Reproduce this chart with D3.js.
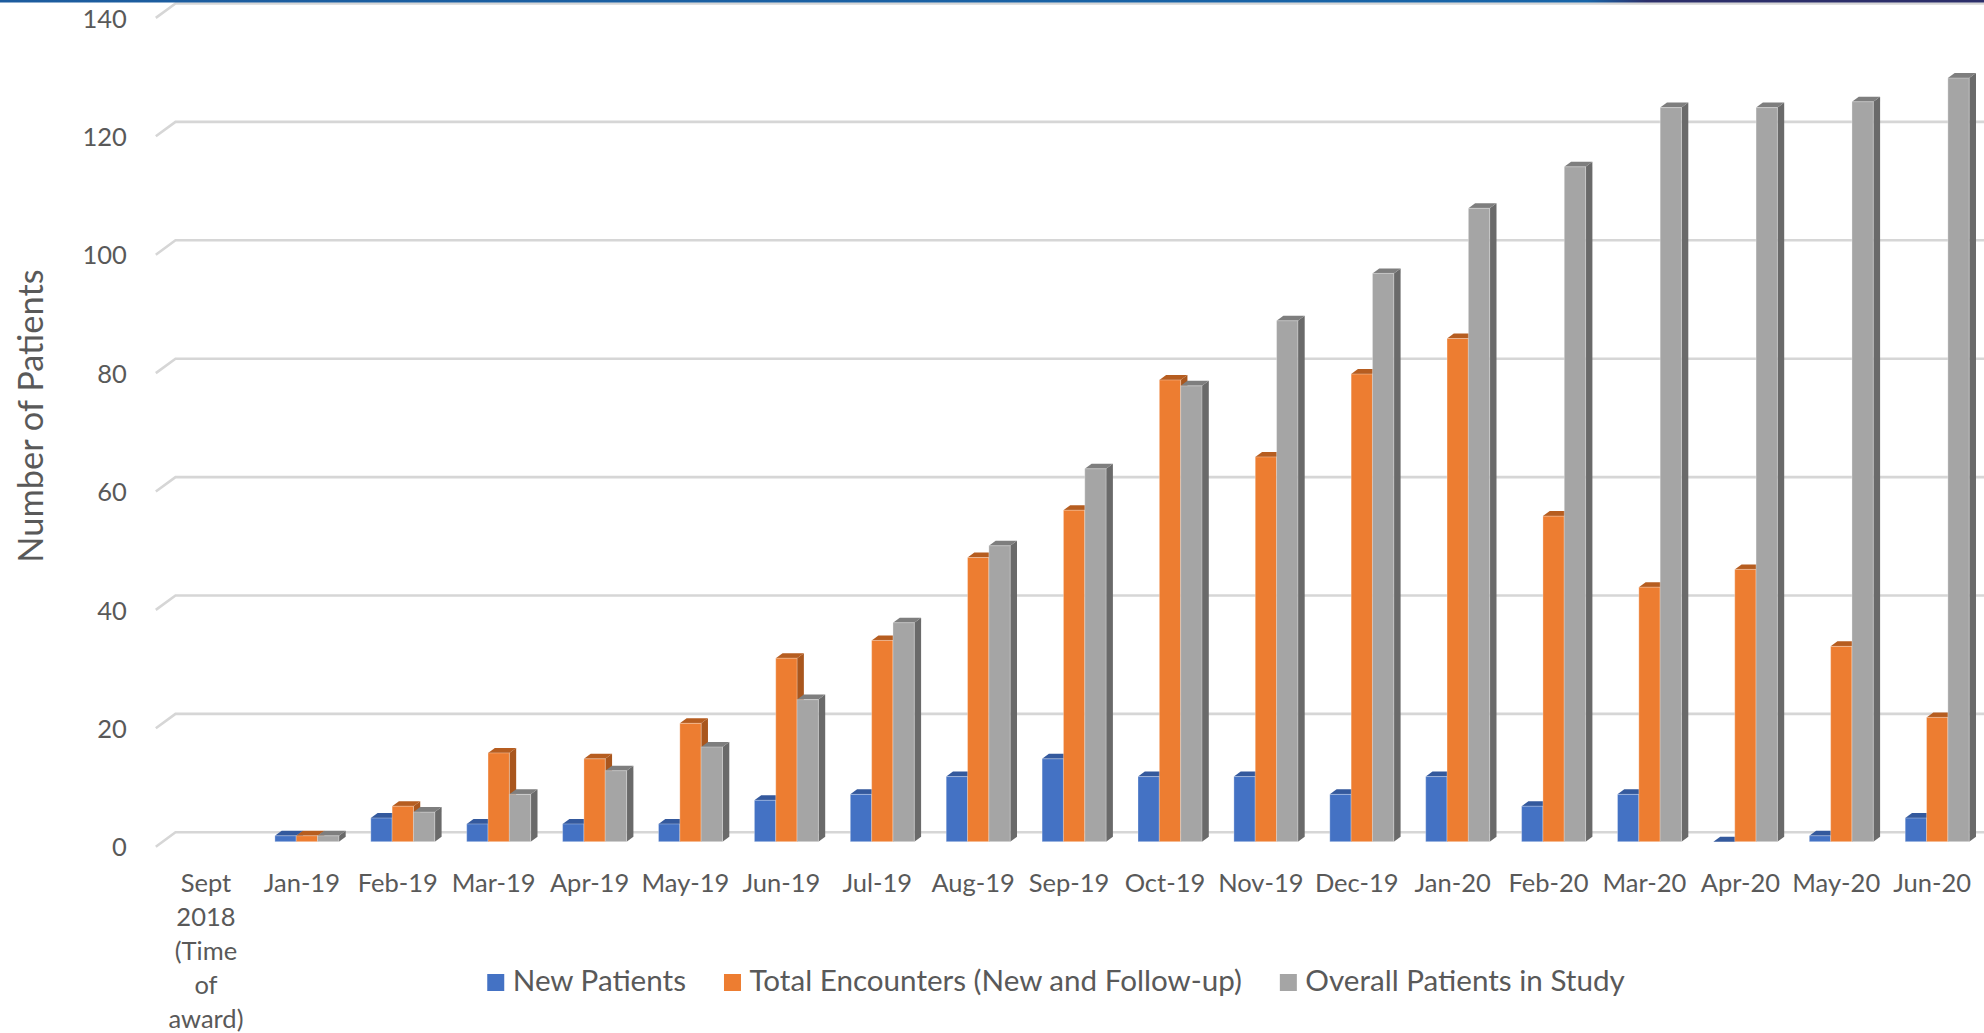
<!DOCTYPE html>
<html>
<head>
<meta charset="utf-8">
<script src="https://cdn.jsdelivr.net/npm/d3@7"></script>
<style>
  html, body { margin: 0; padding: 0; background: #ffffff; }
  svg { display: block; }
  text { font-family: Lato, "Open Sans", sans-serif; fill: #595959; }
</style>
</head>
<body>
<svg id="chart" width="1984" height="1033"></svg>
<script>
// Monthly enrolment figures for the study
const categories = [
  "Sept 2018 (Time of award)", "Jan-19", "Feb-19", "Mar-19", "Apr-19", "May-19",
  "Jun-19", "Jul-19", "Aug-19", "Sep-19", "Oct-19", "Nov-19", "Dec-19",
  "Jan-20", "Feb-20", "Mar-20", "Apr-20", "May-20", "Jun-20"
];
const seriesNames = [
  "New Patients",
  "Total Encounters (New and Follow-up)",
  "Overall Patients in Study"
];
const newPatients     = [null, 1, 4, 3, 3, 3, 7, 8, 11, 14, 11, 11, 8, 11, 6, 8, 0, 1, 4];
const totalEncounters = [null, 1, 6, 15, 14, 20, 31, 34, 48, 56, 78, 65, 79, 85, 55, 43, 46, 33, 21];
const overallPatients = [null, 1, 5, 8, 12, 16, 24, 37, 50, 63, 77, 88, 96, 107, 114, 124, 124, 125, 129];
const yTicks = [0, 20, 40, 60, 80, 100, 120, 140];
const yTitle = "Number of Patients";

// Face colours for each series: front, top, side
const palette = [
  { front: "#4472C4", top: "#34599D", side: "#2E4F8C" },
  { front: "#ED7D31", top: "#B65D20", side: "#A9561D" },
  { front: "#A5A5A5", top: "#7E7E7E", side: "#6A6A6A" }
];

const seriesValues = [newPatients, totalEncounters, overallPatients];

const svg = d3.select("#chart");
const W = 1984;
const tickFont = 25.5, legendFont = 29.6, titleFont = 34.4;

// Thin header rule across the top
const defs = svg.append("defs");
const grad = defs.append("linearGradient").attr("id", "rule").attr("x1", "0").attr("x2", "1");
grad.append("stop").attr("offset", "0").attr("stop-color", "#1d5c9e");
grad.append("stop").attr("offset", "0.80").attr("stop-color", "#1865a8");
grad.append("stop").attr("offset", "0.83").attr("stop-color", "#2c2f6a");
grad.append("stop").attr("offset", "1").attr("stop-color", "#2c2f6a");

// Scales: bar fronts sit on a plane slightly in front of the back wall
const y = d3.scaleLinear().domain([0, 140]).range([841.7, 12.9]);
const wallLift = 9.4;          // back wall is drawn this much higher than the bar plane
const sideDx = -19.7, sideDy = 14.4; // side-wall edge, towards the viewer
const depthDx = 6.8, depthDy = 5;    // column depth

const x = d3.scaleBand().domain(categories).range([163, 163 + 19 * 95.9]).padding(0);
const xs = d3.scaleBand().domain(seriesNames).range([16, 16 + 64]).padding(0);

const wallLeft = 175.5;

// Gridlines on the back wall with the short side-wall segment
const grid = svg.append("g");
yTicks.forEach(t => {
  const yb = y(t) - wallLift;
  grid.append("path")
    .attr("d", `M${wallLeft + sideDx},${yb + sideDy} L${wallLeft},${yb} L${W + 5},${yb}`)
    .attr("fill", "none")
    .attr("stroke", "#d6d6d6")
    .attr("stroke-width", 2.6);
});

svg.append("rect").attr("x", 0).attr("y", 0).attr("width", W).attr("height", 2.5).attr("fill", "url(#rule)");

// Value axis labels, aligned with the front edge of the side wall
const yAxis = d3.axisLeft(y).tickValues(yTicks).tickSize(0).tickPadding(0);
const yAxisG = svg.append("g")
  .attr("transform", `translate(${wallLeft + sideDx - 29},${sideDy - wallLift})`)
  .call(yAxis);
yAxisG.select(".domain").remove();
yAxisG.selectAll("text")
  .attr("font-family", "Lato, 'Open Sans', sans-serif")
  .attr("font-size", tickFont)
  .attr("fill", "#595959")
  .attr("dy", "0.36em");

// Axis title
svg.append("text")
  .attr("transform", "translate(43,416) rotate(-90)")
  .attr("text-anchor", "middle")
  .attr("font-size", titleFont)
  .text(yTitle);

// Columns
const bars = svg.append("g");
categories.forEach((cat, ci) => {
  seriesNames.forEach((s, si) => {
    const v = seriesValues[si][ci];
    if (v === null || v === undefined) return;
    const x0 = x(cat) + xs(s);
    const w = xs.bandwidth();
    const yt = y(v), yb = y(0);
    const c = palette[si];
    const g = bars.append("g");
    // right side face
    g.append("path")
      .attr("d", `M${x0 + w},${yt} L${x0 + w + depthDx},${yt - depthDy} L${x0 + w + depthDx},${yb - depthDy} L${x0 + w},${yb} Z`)
      .attr("fill", c.side);
    // top face
    g.append("path")
      .attr("d", `M${x0},${yt} L${x0 + w},${yt} L${x0 + w + depthDx},${yt - depthDy} L${x0 + depthDx},${yt - depthDy} Z`)
      .attr("fill", c.top);
    // front face
    if (v > 0) {
      g.append("rect")
        .attr("x", x0).attr("y", yt)
        .attr("width", w).attr("height", yb - yt)
        .attr("fill", c.front)
        .attr("stroke", "rgba(255,255,255,0.3)")
        .attr("stroke-width", 1);
    }
  });
});

// Category labels (long labels wrap word by word)
const xLab = svg.append("g");
categories.forEach(cat => {
  const cx = x(cat) + x.bandwidth() / 2 - 5;
  const words = cat.split(" ");
  const t = xLab.append("text")
    .attr("text-anchor", "middle")
    .attr("font-size", tickFont);
  words.forEach((wd, i) => {
    t.append("tspan").attr("x", cx).attr("y", 892 + i * 34).text(wd);
  });
});

// Legend
const legend = svg.append("g");
let cursor = 0;
seriesNames.forEach((s, si) => {
  const g = legend.append("g");
  g.append("rect").attr("x", cursor).attr("y", 974).attr("width", 17).attr("height", 17).attr("fill", palette[si].front);
  const t = g.append("text").attr("x", cursor + 25.5).attr("y", 991).attr("font-size", legendFont).text(s);
  const tw = t.node().getComputedTextLength();
  cursor += 25.5 + tw + 38;
});
const legendWidth = cursor - 38;
legend.attr("transform", `translate(${1056 - legendWidth / 2},0)`);
</script>
</body>
</html>
